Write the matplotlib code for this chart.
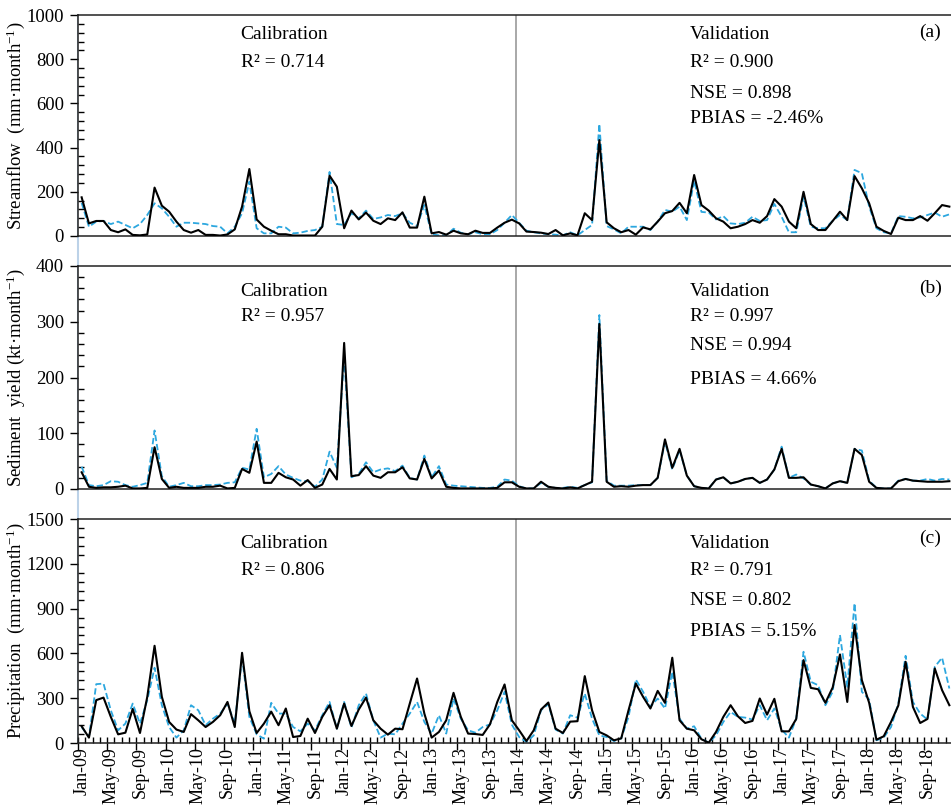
import numpy as np
import pandas as pd
import matplotlib
matplotlib.use('Agg')
import matplotlib.pyplot as plt
from matplotlib.lines import Line2D
from matplotlib.ticker import MultipleLocator

plt.rcParams['font.family'] = ['Liberation Serif', 'DejaVu Serif']
plt.rcParams['mathtext.fontset'] = 'custom'
plt.rcParams['mathtext.rm'] = 'Liberation Serif'

# monthly series, Jan 2009 - Dec 2018
months = pd.date_range('2009-01-01', periods=120, freq='MS')
month_labels = [d.strftime('%b-%y') for d in months]

flow_obs = [175, 57, 68, 68, 27, 17, 30, 5, 3, 7,
            219, 137, 110, 65, 27, 15, 27, 5, 5, 2,
            7, 30, 133, 303, 75, 42, 24, 8, 8, 2,
            2, 2, 2, 42, 273, 223, 35, 115, 75, 106,
            69, 54, 80, 72, 107, 38, 38, 178, 12, 18,
            6, 24, 12, 8, 24, 14, 14, 38, 60, 74,
            57, 20, 18, 15, 9, 27, 3, 12, 3, 103,
            72, 434, 62, 35, 17, 27, 6, 39, 30, 65,
            103, 113, 150, 103, 276, 140, 115, 80, 65, 35,
            42, 54, 72, 60, 90, 167, 133, 65, 35, 200,
            54, 27, 27, 68, 110, 72, 271, 216, 148, 42,
            23, 9, 83, 72, 72, 90, 69, 103, 140, 133]
flow_sim = [150, 42, 65, 68, 54, 65, 50, 35, 54, 95,
            148, 125, 87, 42, 60, 60, 57, 54, 45, 42,
            12, 42, 103, 246, 35, 12, 12, 42, 38, 12,
            15, 23, 27, 42, 290, 54, 50, 103, 80, 115,
            77, 84, 95, 90, 103, 60, 45, 140, 8, 3,
            3, 33, 15, 8, 17, 8, 8, 27, 60, 95,
            60, 24, 17, 12, 8, 6, 3, 17, 3, 27,
            50, 507, 45, 30, 12, 42, 42, 42, 27, 65,
            118, 110, 133, 72, 250, 109, 106, 75, 90, 57,
            54, 60, 87, 68, 72, 145, 87, 17, 17, 178,
            42, 35, 35, 69, 95, 72, 299, 284, 133, 35,
            17, 12, 90, 87, 80, 84, 95, 106, 87, 98]

sed_obs = [30, 4, 2, 3, 3, 4, 6, 1, 1, 2,
           75, 18, 2, 4, 2, 2, 2, 4, 4, 6,
           1, 2, 36, 29, 85, 11, 11, 29, 21, 17,
           6, 16, 2, 8, 36, 17, 262, 23, 25, 41,
           24, 20, 30, 30, 39, 19, 17, 54, 19, 33,
           4, 2, 1, 1, 1, 1, 1, 2, 12, 12,
           4, 1, 1, 13, 4, 2, 1, 3, 1, 7,
           13, 296, 13, 4, 5, 4, 6, 7, 7, 20,
           89, 38, 72, 24, 5, 2, 1, 17, 21, 10,
           13, 18, 20, 11, 17, 35, 72, 20, 20, 21,
           8, 5, 1, 10, 14, 11, 72, 61, 13, 2,
           1, 1, 14, 18, 15, 14, 13, 13, 13, 14]
sed_sim = [40, 7, 5, 7, 14, 13, 7, 4, 7, 11,
           105, 23, 4, 7, 11, 5, 5, 7, 7, 8,
           11, 12, 38, 35, 108, 21, 27, 41, 26, 20,
           15, 14, 4, 17, 67, 38, 240, 21, 27, 48,
           30, 35, 37, 32, 42, 20, 17, 60, 21, 41,
           8, 6, 5, 4, 3, 2, 2, 4, 17, 15,
           5, 1, 1, 11, 4, 2, 2, 4, 2, 7,
           12, 312, 15, 6, 6, 6, 7, 7, 7, 20,
           85, 35, 70, 24, 5, 2, 1, 17, 21, 10,
           13, 18, 20, 11, 17, 35, 76, 20, 26, 19,
           8, 5, 1, 10, 14, 11, 72, 69, 15, 2,
           1, 1, 15, 18, 15, 15, 18, 15, 18, 17]

pcp_obs = [112, 36, 287, 304, 175, 58, 69, 228, 67, 309,
           651, 309, 141, 90, 74, 193, 152, 107, 141, 186,
           275, 107, 604, 213, 67, 130, 210, 119, 231, 40,
           47, 163, 67, 175, 253, 96, 264, 114, 224, 304,
           152, 96, 56, 96, 92, 264, 432, 197, 36, 74,
           152, 336, 175, 63, 60, 54, 125, 275, 392, 152,
           85, 13, 85, 224, 271, 96, 67, 143, 146, 448,
           219, 74, 51, 18, 31, 219, 398, 309, 231, 349,
           269, 571, 152, 96, 85, 25, 2, 74, 175, 253,
           179, 134, 148, 298, 190, 296, 78, 78, 161, 555,
           369, 360, 269, 372, 593, 275, 790, 421, 269, 22,
           45, 141, 251, 544, 242, 134, 161, 499, 354, 253]
pcp_sim = [107, 40, 394, 398, 219, 85, 130, 264, 130, 287,
           504, 253, 107, 36, 85, 253, 219, 119, 163, 197,
           264, 130, 578, 175, 58, 29, 269, 197, 197, 107,
           78, 130, 85, 186, 275, 96, 275, 103, 253, 331,
           152, 36, 63, 58, 130, 197, 275, 141, 63, 186,
           63, 298, 163, 85, 69, 107, 125, 219, 343, 123,
           40, 7, 51, 219, 260, 90, 63, 186, 170, 331,
           163, 51, 40, 13, 31, 175, 425, 343, 242, 298,
           231, 477, 163, 96, 112, 29, 2, 51, 141, 208,
           175, 170, 157, 253, 152, 231, 90, 36, 163, 611,
           410, 387, 253, 343, 723, 376, 936, 343, 291, 18,
           36, 107, 264, 584, 275, 197, 157, 510, 571, 365]

ylabels = ['Streamflow  (mm·month$\\mathregular{^{-1}}$)',
           'Sediment  yield (kt·month$\\mathregular{^{-1}}$)',
           'Precipitation  (mm·month$\\mathregular{^{-1}}$)']
panel_tags = ['(a)', '(b)', '(c)']
calib_r2 = ['0.714', '0.957', '0.806']
valid_r2 = ['0.900', '0.997', '0.791']
valid_nse = ['0.898', '0.994', '0.802']
valid_pbias = ['-2.46%', '4.66%', '5.15%']
ymax = [1000, 400, 1500]
ystep = [200, 100, 300]
yminor = [40, 20, 60]
split_month = 60  # Jan-14: start of validation

obs_all = [flow_obs, sed_obs, pcp_obs]
sim_all = [flow_sim, sed_sim, pcp_sim]

# text heights (axes fraction) per panel: header, R2, NSE, PBIAS, tag
text_y = [[0.914, 0.787, 0.645, 0.53, 0.92],
          [0.885, 0.773, 0.645, 0.49, 0.90],
          [0.891, 0.772, 0.638, 0.50, 0.915]]

W, H = 951, 807
fig = plt.figure(figsize=(W / 100, H / 100), dpi=100)
left = 78 / W
width = 875 / W
boxes = [(15, 236), (266, 489), (519, 743)]

x = np.arange(120) + 0.5

# faint guide along the left edge
fig.add_artist(Line2D([left, left], [1 - 15 / H, 1 - 743 / H], color='#bcd2e8',
                      lw=1.5, zorder=0))

for k, (top, bot) in enumerate(boxes):
    ax = fig.add_axes([left, 1 - bot / H, width, (bot - top) / H])
    ax.plot(x, obs_all[k], color='black', lw=1.5, zorder=3)
    ax.plot(x, sim_all[k], color='#2ca7df', lw=1.3, ls=(0, (3.5, 1.6)), zorder=2)
    ax.axvline(split_month, color='#9a9a9a', lw=1.2, zorder=1)

    ax.set_xlim(0, 120)
    ax.set_ylim(0, ymax[k])
    ax.yaxis.set_major_locator(MultipleLocator(ystep[k]))
    ax.yaxis.set_minor_locator(MultipleLocator(yminor[k]))
    ax.tick_params(axis='y', which='major', direction='out', length=6, width=1,
                   labelsize=13.5, pad=4)
    ax.tick_params(axis='y', which='minor', direction='in', length=4, width=1)
    for s in ['left', 'bottom', 'top']:
        ax.spines[s].set_color('#222222')
        ax.spines[s].set_linewidth(1.1)
    ax.spines['right'].set_visible(False)

    ax.set_ylabel(ylabels[k], fontsize=13.5)
    ax.yaxis.set_label_coords(-0.058, 0.5)

    if k < 2:
        ax.set_xticks([])
    else:
        ax.set_xticks(x[::4])
        ax.set_xticklabels(month_labels[::4], rotation=90, fontsize=13)
        ax.set_xticks(np.arange(121), minor=True)
        ax.tick_params(axis='x', which='major', length=0, pad=3)
        ax.tick_params(axis='x', which='minor', direction='in', length=4, width=1)
        sec = ax.secondary_xaxis('bottom')
        sec.set_xticks(np.arange(0, 120, 4))
        sec.tick_params(direction='out', length=5, width=1, labelbottom=False)
        sec.spines['bottom'].set_visible(False)

    ty = text_y[k]
    fs = 14
    tr = ax.get_xaxis_transform()
    ax.text(22.3, ty[0], 'Calibration', transform=tr, fontsize=fs, va='center')
    ax.text(22.3, ty[1], 'R² = ' + calib_r2[k], transform=tr, fontsize=fs, va='center')
    ax.text(83.9, ty[0], 'Validation', transform=tr, fontsize=fs, va='center')
    ax.text(83.9, ty[1], 'R² = ' + valid_r2[k], transform=tr, fontsize=fs, va='center')
    ax.text(83.9, ty[2], 'NSE = ' + valid_nse[k], transform=tr, fontsize=fs, va='center')
    ax.text(83.9, ty[3], 'PBIAS = ' + valid_pbias[k], transform=tr, fontsize=fs,
            va='center')
    ax.text(116.9, ty[4], panel_tags[k], transform=tr, fontsize=fs,
            va='center', ha='center')

fig.savefig('out.png', dpi=100)
